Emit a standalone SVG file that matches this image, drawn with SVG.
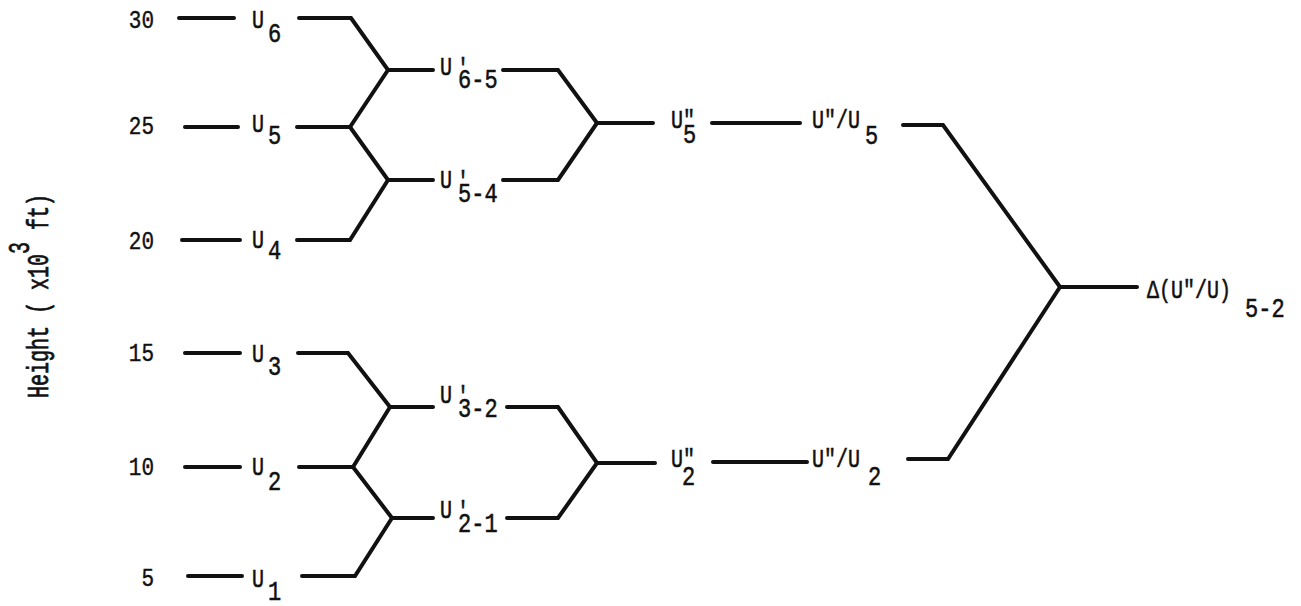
<svg xmlns="http://www.w3.org/2000/svg" width="1301" height="606" viewBox="0 0 1301 606">
<style>
 text{font-family:"Liberation Mono","DejaVu Sans Mono",monospace;fill:#111;stroke:#111;stroke-width:0.45}
 .t{font-size:20px}
 .s{font-size:22px}
 .n{font-size:21px;text-anchor:end;stroke-width:0.35}
 .ax{font-size:20px;stroke-width:0.5}
 .c{fill:none;stroke:#111;stroke-width:4;stroke-linecap:round;stroke-linejoin:miter}
</style>
<rect width="1301" height="606" fill="#fff"/>
<g id="axis">
 <text class="ax" transform="translate(48,398) rotate(-90) scale(1,1.5)">Height ( x10<tspan dy="-13">3</tspan><tspan dy="13"> ft)</tspan></text>
 <text class="n" transform="matrix(1,0,0,1.2,154,28)">30</text>
 <text class="n" transform="matrix(1,0,0,1.2,154,134)">25</text>
 <text class="n" transform="matrix(1,0,0,1.2,154,249)">20</text>
 <text class="n" transform="matrix(1,0,0,1.2,154,361)">15</text>
 <text class="n" transform="matrix(1,0,0,1.2,154,475)">10</text>
 <text class="n" transform="matrix(1,0,0,1.2,154,586)">5</text>
</g>
<g id="connectors" class="c">
 <path d="M179,18H234"/>
 <path d="M185,127H238"/>
 <path d="M182,240H240"/>
 <path d="M185,353H240"/>
 <path d="M185,467H240"/>
 <path d="M188,576H242"/>
 <path d="M299,18H351L388,70H433"/>
 <path d="M297,127H350L388,70"/>
 <path d="M350,127L388,180H433"/>
 <path d="M297,240H350L388,180"/>
 <path d="M503,70H558L597,123H653"/>
 <path d="M503,180H558L597,123"/>
 <path d="M712,123H800"/>
 <path d="M903,125H943L1060,287H1137"/>
 <path d="M908,459H948L1060,287"/>
 <path d="M298,353H348L390,407H433"/>
 <path d="M299,467H353L390,407"/>
 <path d="M353,467L392,518H433"/>
 <path d="M302,576H355L392,518"/>
 <path d="M507,407H558L597,463H655"/>
 <path d="M507,518H558L597,463"/>
 <path d="M713,462H807"/>
</g>
<g id="U6"><text class="t" transform="matrix(1,0,0,1.3,252,28)">U</text><text class="s" transform="matrix(1,0,0,1.25,268,42)">6</text></g>
<g id="U5"><text class="t" transform="matrix(1,0,0,1.3,252,132)">U</text><text class="s" transform="matrix(1,0,0,1.25,268,144)">5</text></g>
<g id="U4"><text class="t" transform="matrix(1,0,0,1.3,252,248)">U</text><text class="s" transform="matrix(1,0,0,1.25,268,259)">4</text></g>
<g id="U3"><text class="t" transform="matrix(1,0,0,1.3,252,362)">U</text><text class="s" transform="matrix(1,0,0,1.25,268,375)">3</text></g>
<g id="U2"><text class="t" transform="matrix(1,0,0,1.3,252,475)">U</text><text class="s" transform="matrix(1,0,0,1.25,268,490)">2</text></g>
<g id="U1"><text class="t" transform="matrix(1,0,0,1.3,252,587)">U</text><text class="s" transform="matrix(1,0,0,1.25,268,600)">1</text></g>
<g id="U65"><text class="t" transform="matrix(1,0,0,1.3,440,75)">U</text><text class="t" transform="matrix(1,0,0,1.3,457,76)">'</text><text class="s" transform="matrix(1,0,0,1.25,458,88)">6-5</text></g>
<g id="U54"><text class="t" transform="matrix(1,0,0,1.3,440,188)">U</text><text class="t" transform="matrix(1,0,0,1.3,457,189)">'</text><text class="s" transform="matrix(1,0,0,1.25,458,202)">5-4</text></g>
<g id="U32"><text class="t" transform="matrix(1,0,0,1.3,440,403)">U</text><text class="t" transform="matrix(1,0,0,1.3,457,404)">'</text><text class="s" transform="matrix(1,0,0,1.25,458,417)">3-2</text></g>
<g id="U21"><text class="t" transform="matrix(1,0,0,1.3,440,518)">U</text><text class="t" transform="matrix(1,0,0,1.3,457,519)">'</text><text class="s" transform="matrix(1,0,0,1.25,458,532)">2-1</text></g>
<g id="U5pp"><text class="t" transform="matrix(1,0,0,1.3,671,128)">U"</text><text class="s" transform="matrix(1,0,0,1.25,683,143)">5</text></g>
<g id="U2pp"><text class="t" transform="matrix(1,0,0,1.3,671,467)">U"</text><text class="s" transform="matrix(1,0,0,1.25,682,485)">2</text></g>
<g id="ratio5"><text class="t" transform="matrix(1,0,0,1.3,812,128)">U"/U</text><text class="s" transform="matrix(1,0,0,1.25,865,144)">5</text></g>
<g id="ratio2"><text class="t" transform="matrix(1,0,0,1.3,812,467)">U"/U</text><text class="s" transform="matrix(1,0,0,1.25,868,485)">2</text></g>
<g id="delta"><text class="t" transform="matrix(1,0,0,1.3,1147,298)">Δ(U"/U)</text><text class="s" transform="matrix(1,0,0,1.25,1245,317)">5-2</text></g>
</svg>
